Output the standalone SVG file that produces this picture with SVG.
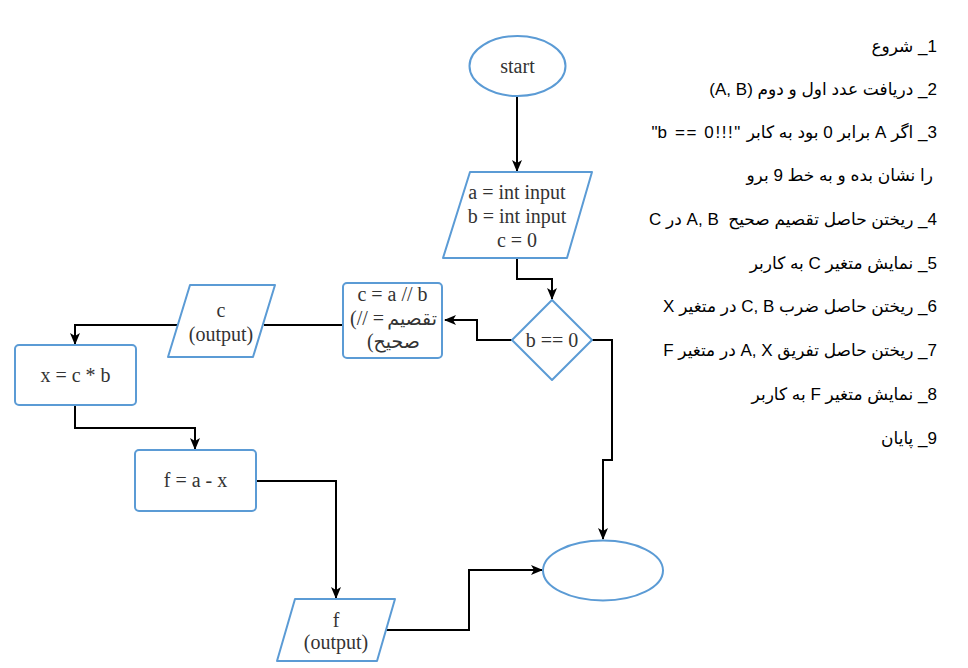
<svg xmlns="http://www.w3.org/2000/svg" width="968" height="668" viewBox="0 0 968 668">
<style>
.shape{fill:#ffffff;stroke:#5B9BD5;stroke-width:2;stroke-linejoin:round}
.lbl{font-family:"Liberation Serif","DejaVu Sans",serif;font-size:20px;fill:#333333;text-anchor:middle}
.edge{fill:none;stroke:#000000;stroke-width:2}
.step{font-family:"Liberation Sans","DejaVu Sans",sans-serif;font-size:17px;fill:#000000;white-space:pre}
</style>
<defs>
<marker id="arr" viewBox="0 0 12 10" refX="11" refY="5" markerWidth="12" markerHeight="10" markerUnits="userSpaceOnUse" orient="auto">
<path d="M0,0 L12,5 L0,10 L3,5 Z" fill="#000000"/>
</marker>
</defs>
<rect width="968" height="668" fill="#ffffff"/>
<g id="connectors">
<path class="edge" d="M517,96 L517,171" marker-end="url(#arr)"/>
<path class="edge" d="M517,258 L517,279 L552,279 L552,299" marker-end="url(#arr)"/>
<path class="edge" d="M512,340 L477,340 L477,320 L445,320" marker-end="url(#arr)"/>
<path class="edge" d="M343,325 L264,325"/>
<path class="edge" d="M178,325 L75,325 L75,344" marker-end="url(#arr)"/>
<path class="edge" d="M75,405 L75,428 L195,428 L195,449" marker-end="url(#arr)"/>
<path class="edge" d="M256,481 L336,481 L336,598" marker-end="url(#arr)"/>
<path class="edge" d="M386,630 L469,630 L469,570 L542,570" marker-end="url(#arr)"/>
<path class="edge" d="M592,340 L612,340 L612,460 L603,460 L603,539" marker-end="url(#arr)"/>
</g>
<g id="start">
<ellipse class="shape" cx="517.5" cy="66" rx="48" ry="30"/>
<text class="lbl" x="517.5" y="73">start</text>
</g>
<g id="input">
<path class="shape" d="M470,172 L592,172 L567,258 L443,258 Z"/>
<text class="lbl" x="517" y="199">a = int input</text>
<text class="lbl" x="517" y="223">b = int input</text>
<text class="lbl" x="517" y="247">c = 0</text>
</g>
<g id="decision">
<path class="shape" d="M552,300 L592,340 L552,380 L512,340 Z"/>
<text class="lbl" x="552" y="347">b == 0</text>
</g>
<g id="divide">
<rect class="shape" x="343" y="283" width="99" height="75" rx="4"/>
<text class="lbl" x="392.5" y="301">c = a // b</text>
<text class="lbl" x="350" y="325" style="text-anchor:start">(// =</text>
<text class="lbl" x="437" y="325" style="text-anchor:end;font-size:19px">تقصیم</text>
<text class="lbl" x="367" y="348" style="text-anchor:start">(</text>
<text class="lbl" x="373.5" y="348" style="text-anchor:start;font-size:19px">صحیح</text>
</g>
<g id="output-c">
<path class="shape" d="M190,285 L275,285 L253,357 L168,357 Z"/>
<text class="lbl" x="221" y="317">c</text>
<text class="lbl" x="221" y="341">(output)</text>
</g>
<g id="multiply">
<rect class="shape" x="15" y="345" width="121" height="60" rx="4"/>
<text class="lbl" x="75.5" y="382">x = c * b</text>
</g>
<g id="subtract">
<rect class="shape" x="135" y="450" width="121" height="61" rx="4"/>
<text class="lbl" x="195.5" y="487">f = a - x</text>
</g>
<g id="output-f">
<path class="shape" d="M295,599 L395,599 L377,661 L277,661 Z"/>
<text class="lbl" x="336" y="627">f</text>
<text class="lbl" x="336" y="649">(output)</text>
</g>
<g id="end">
<ellipse class="shape" cx="603" cy="570.5" rx="60" ry="30"/>
</g>
<g id="steps">
<text class="step" x="937" y="52" direction="rtl" text-anchor="start">1_ شروع</text>
<text class="step" x="937" y="95" direction="rtl" text-anchor="start">2_ دریافت عدد اول و دوم (A, B)</text>
<text class="step" x="937" y="138" direction="rtl" text-anchor="start">3_ اگر A برابر 0 بود به کابر <tspan letter-spacing="1.6">&#x2066;"b == 0!!!"&#x2069;</tspan></text>
<text class="step" x="933" y="181" direction="rtl" text-anchor="start">را نشان بده و به خط 9 برو</text>
<text class="step" x="937" y="225" direction="rtl" text-anchor="start">4_ ریختن حاصل تقصیم صحیح  A, B در C</text>
<text class="step" x="937" y="269" direction="rtl" text-anchor="start">5_ نمایش متغیر C به کاربر</text>
<text class="step" x="937" y="312" direction="rtl" text-anchor="start">6_ ریختن حاصل ضرب C, B در متغیر X</text>
<text class="step" x="937" y="356" direction="rtl" text-anchor="start">7_ ریختن حاصل تفریق A, X در متغیر F</text>
<text class="step" x="937" y="400" direction="rtl" text-anchor="start">8_ نمایش متغیر F به کاربر</text>
<text class="step" x="937" y="444" direction="rtl" text-anchor="start">9_ پایان</text>
</g>
</svg>
